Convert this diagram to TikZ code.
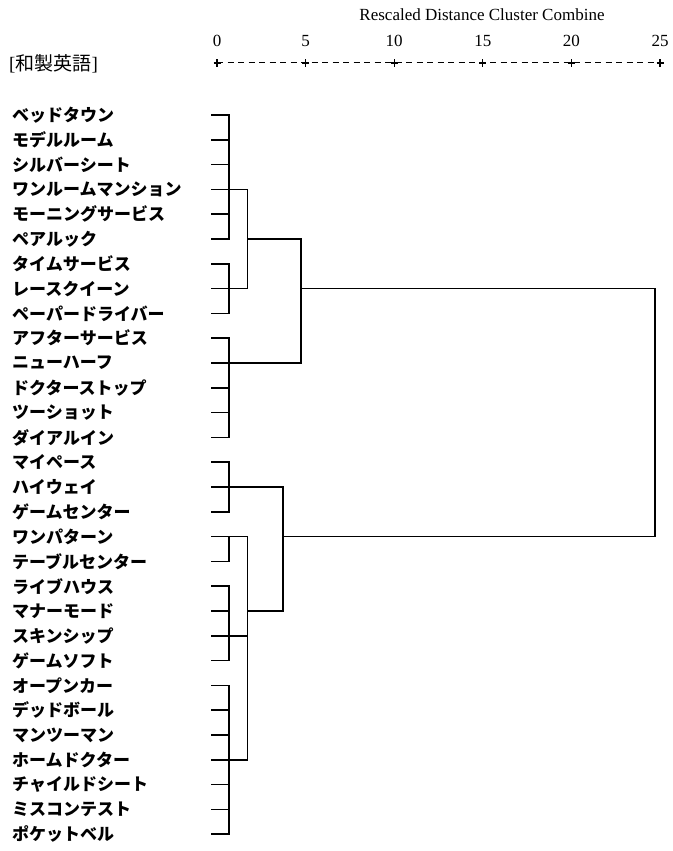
\documentclass[tikz,border=0pt]{standalone}
\usepackage{fontspec}
\setmainfont{Liberation Serif}
\newfontfamily\jp{Noto Sans CJK JP}
\begin{document}
\begin{tikzpicture}[x=1pt,y=-1pt,
  lab/.style={anchor=west,inner sep=0pt,font=\jp\bfseries\fontsize{17}{19}\selectfont},
  num/.style={inner sep=0pt,font=\fontsize{17}{19}\selectfont},
  den/.style={line width=1.6pt,line cap=rect},
  axis/.style={line width=1pt,dash pattern=on 6pt off 4.5pt},
  tick/.style={line width=1.3pt}]
\useasboundingbox (0,0) rectangle (672,851);
\node[inner sep=0pt,font=\fontsize{17}{19}\selectfont] (title) at (482,15) {Rescaled Distance Cluster Combine};
\node[anchor=west,inner sep=0pt,font=\fontsize{19}{21}\selectfont] (hdr) at (9,64) {[{\jp 和製英語}]};
% axis
\foreach \k/\v in {0/0,1/5,2/10,3/15,4/20,5/25}{
  \coordinate (t\k) at ({217+\k*88.6},63);
  \node[num] (n\k) at ({217+\k*88.6},41) {\v};
}
\draw[axis] (t0) -- (t5);
\foreach \k in {0,...,5}{
  \draw[tick] ([yshift=-4pt]t\k) -- ([yshift=4pt]t\k);
  \draw[tick] ([xshift=-3.5pt]t\k) -- ([xshift=3.5pt]t\k);
}
% labels
\foreach \i/\t in {1/ベッドタウン,2/モデルルーム,3/シルバーシート,4/ワンルームマンション,5/モーニングサービス,6/ペアルック,7/タイムサービス,8/レースクイーン,9/ペーパードライバー,10/アフターサービス,11/ニューハーフ,12/ドクターストップ,13/ツーショット,14/ダイアルイン,15/マイペース,16/ハイウェイ,17/ゲームセンター,18/ワンパターン,19/テーブルセンター,20/ライブハウス,21/マナーモード,22/スキンシップ,23/ゲームソフト,24/オープンカー,25/デッドボール,26/マンツーマン,27/ホームドクター,28/チャイルドシート,29/ミスコンテスト,30/ポケットベル}{
  \node[lab] (l\i) at (12,{115+(\i-1)*24.8}) {\t};
  \coordinate (s\i) at (212,{115+(\i-1)*24.8});
}
% merge columns
\coordinate (xa) at (229,0);
\coordinate (xb) at (247.5,0);
\coordinate (xc) at (301,0);
\coordinate (xd) at (283,0);
\coordinate (xe) at (247.5,0);
\coordinate (xf) at (655,0);
% leaves
\foreach \i in {1,...,30}{ \draw[den] (s\i) -- (s\i -| xa); }
% first-level clusters
\foreach \a/\b in {1/6,7/9,10/14,15/17,18/19,20/23,24/30}{
  \draw[den] (s\a -| xa) -- (s\b -| xa);
}
% upper group
\draw[den] (s4 -| xa) -- (s4 -| xb) -- (s8 -| xb) -- (s8 -| xa);
\draw[den] (s6 -| xb) -- (s6 -| xc);
\draw[den] (s11 -| xa) -- (s11 -| xc) -- (s6 -| xc);
\draw[den] (s8 -| xc) -- (s8 -| xf);
% lower group
\draw[den] (s16 -| xa) -- (s16 -| xd);
\draw[den] (s18 -| xa) -- (s18 -| xe) -- (s27 -| xe) -- (s27 -| xa);
\draw[den] (s22 -| xa) -- (s22 -| xe);
\draw[den] (s21 -| xe) -- (s21 -| xd);
\draw[den] (s16 -| xd) -- (s21 -| xd);
\draw[den] (s18 -| xd) -- (s18 -| xf);
% final
\draw[den] (s8 -| xf) -- (s18 -| xf);
\end{tikzpicture}
\end{document}
